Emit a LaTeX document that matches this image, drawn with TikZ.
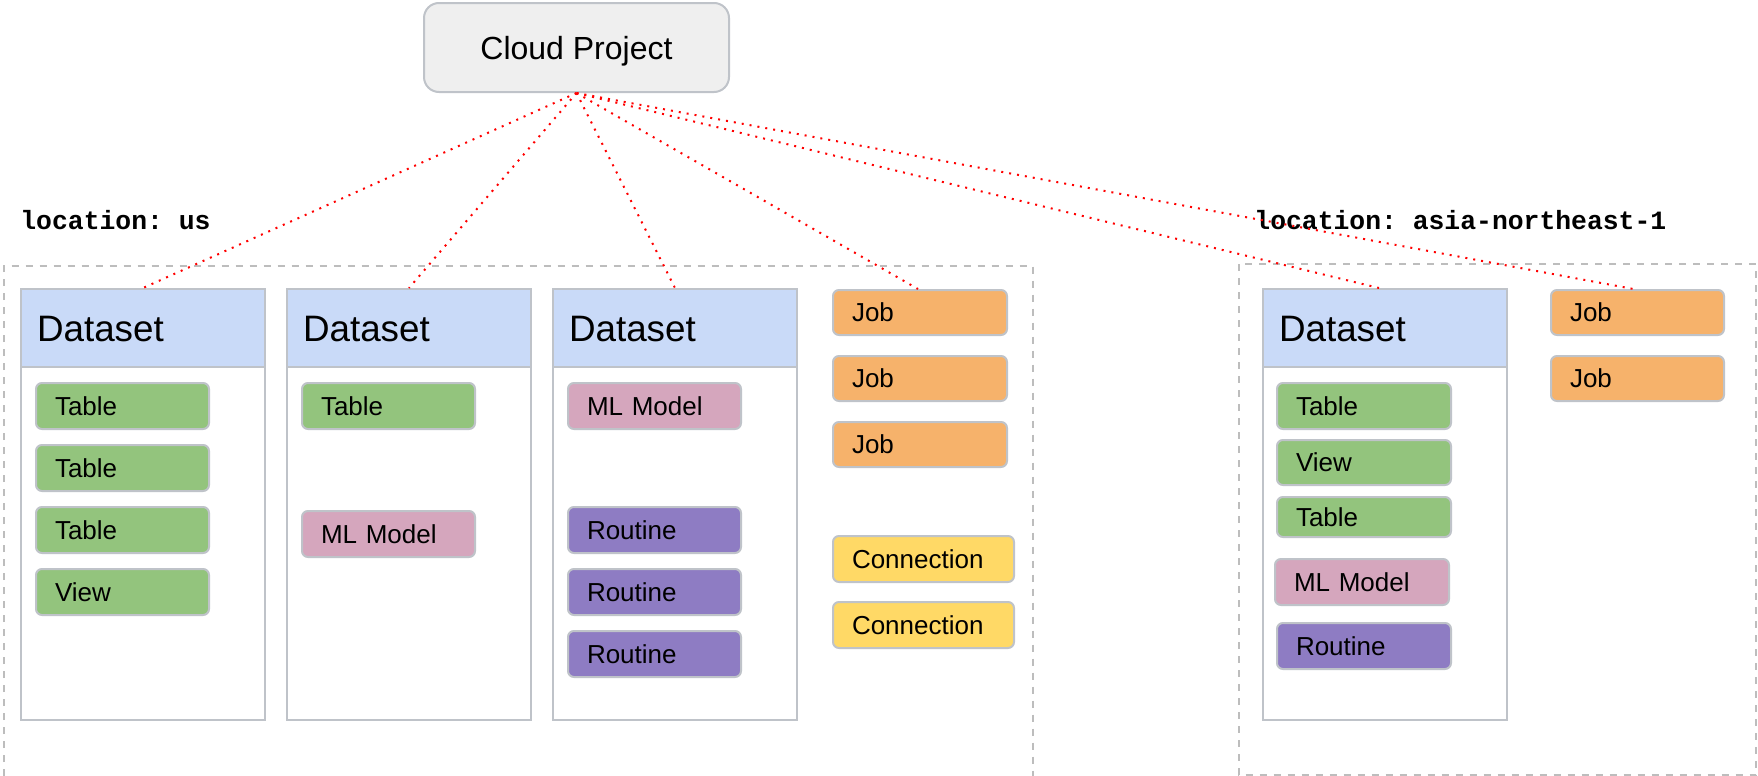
\documentclass[tikz,border=0pt]{standalone}
\usepackage{fontspec}
\setmainfont{Liberation Sans}
\newfontfamily\codefont{Liberation Mono}

\definecolor{hdrblue}{HTML}{C9DAF8}
\definecolor{tblgreen}{HTML}{93C47D}
\definecolor{mlpink}{HTML}{D5A6BD}
\definecolor{rtnpurple}{HTML}{8E7CC3}
\definecolor{joborange}{HTML}{F6B26B}
\definecolor{connyellow}{HTML}{FFD966}
\definecolor{cloudgray}{HTML}{EFEFEF}
\definecolor{boxgray}{HTML}{BFC3C9}
\definecolor{regiongray}{HTML}{BDBDBD}

\tikzset{
  every node/.style={inner sep=0pt},
  region/.style={draw=regiongray, line width=1pt, dash pattern=on 3.5pt off 3.5pt},
  dsbody/.style={draw=boxgray, line width=1pt, fill=white, anchor=north west,
    minimum width=122pt, minimum height=215.5pt},
  dshead/.style={draw=boxgray, line width=1pt, fill=hdrblue, anchor=north west,
    minimum height=39pt, text width=106pt, inner xsep=8pt, align=left,
    text height=13.1pt, text depth=0pt, font=\fontsize{18.4}{21}\selectfont},
  itm/.style={draw=boxgray, line width=1pt, rounded corners=3pt, anchor=north west,
    inner xsep=9.5pt, inner ysep=0pt, align=left, text height=9.3pt, text depth=0pt,
    font=\fontsize{13}{15}\selectfont},
  link/.style={red, line width=1pt, dash pattern=on 1pt off 3pt},
  loc/.style={anchor=base west, font=\codefont\bfseries\fontsize{13.2}{15}\selectfont},
}

% name, left x, top y, width (px), height (px), fill, label
\newcommand\itembox[7]{%
  \node[itm, fill=#6, text width=\dimexpr#4pt/2-19pt\relax, minimum height=#5*0.5pt]
    (#1) at (#2,#3) {#7};}

% dataset column: name, left x
\newcommand\dataset[2]{%
  \node[dsbody] (#1) at (#2,288) {};
  \node[dshead] (#1h) at (#2,288) {Dataset};}

\begin{document}
\frenchspacing
\begin{tikzpicture}[x=0.5pt, y=-0.5pt]
\useasboundingbox (0,0) rectangle (1758,776);

% project
\node[draw=boxgray, fill=cloudgray, line width=1pt, rounded corners=7.5pt,
  minimum width=152.5pt, minimum height=44.5pt, text height=11.5pt, text depth=0pt,
  font=\fontsize{16}{19}\selectfont] (cloud) at (576.5,47.5) {Cloud Project};

% location labels
\node[loc] (locus) at (20,229) {location: us};
\node[loc] (locasia) at (1254,229) {location: asia-northeast-1};

% location regions
\draw[region] (3.5,790) -- (3.5,266) -- (1033,266) -- (1033,790);
\draw[region] (1238.5,264) rectangle (1756,775);

% datasets
\dataset{ds1}{20}
\dataset{ds2}{286}
\dataset{ds3}{552}
\dataset{ds4}{1262}

% contents of the first dataset
\itembox{t11}{35}{382}{173}{46}{tblgreen}{Table}
\itembox{t12}{35}{444}{173}{46}{tblgreen}{Table}
\itembox{t13}{35}{506}{173}{46}{tblgreen}{Table}
\itembox{v11}{35}{568}{173}{46}{tblgreen}{View}

% contents of the second dataset
\itembox{t21}{301}{382}{173}{46}{tblgreen}{Table}
\itembox{m21}{301}{510}{173}{46}{mlpink}{ML Model}

% contents of the third dataset
\itembox{m31}{567}{382}{173}{46}{mlpink}{ML Model}
\itembox{r31}{567}{506}{173}{46}{rtnpurple}{Routine}
\itembox{r32}{567}{568}{173}{46}{rtnpurple}{Routine}
\itembox{r33}{567}{630}{173}{46}{rtnpurple}{Routine}

% jobs and connections in us
\itembox{j1}{832}{289}{174}{45}{joborange}{Job}
\itembox{j2}{832}{355}{174}{45}{joborange}{Job}
\itembox{j3}{832}{421}{174}{45}{joborange}{Job}
\itembox{c1}{832}{535}{181}{46}{connyellow}{Connection}
\itembox{c2}{832}{601}{181}{46}{connyellow}{Connection}

% contents of the asia dataset
\itembox{t41}{1276}{382}{174}{46}{tblgreen}{Table}
\itembox{v41}{1276}{439}{174}{45}{tblgreen}{View}
\itembox{t42}{1276}{496}{174}{40}{tblgreen}{Table}
\itembox{m41}{1274}{558}{174}{46}{mlpink}{ML Model}
\itembox{r41}{1276}{622}{174}{46}{rtnpurple}{Routine}

% jobs in asia
\itembox{j4}{1550}{289}{173}{45}{joborange}{Job}
\itembox{j5}{1550}{355}{173}{45}{joborange}{Job}

% ownership links from the project
\draw[link] (cloud.south) -- (ds1.north);
\draw[link] (cloud.south) -- (ds2.north);
\draw[link] (cloud.south) -- (ds3.north);
\draw[link] (cloud.south) -- ([xshift=-1pt]j1.north);
\draw[link] (cloud.south) -- ([xshift=-3pt]ds4.north);
\draw[link] (cloud.south) -- ([xshift=-2pt]j4.north);
\end{tikzpicture}
\end{document}
